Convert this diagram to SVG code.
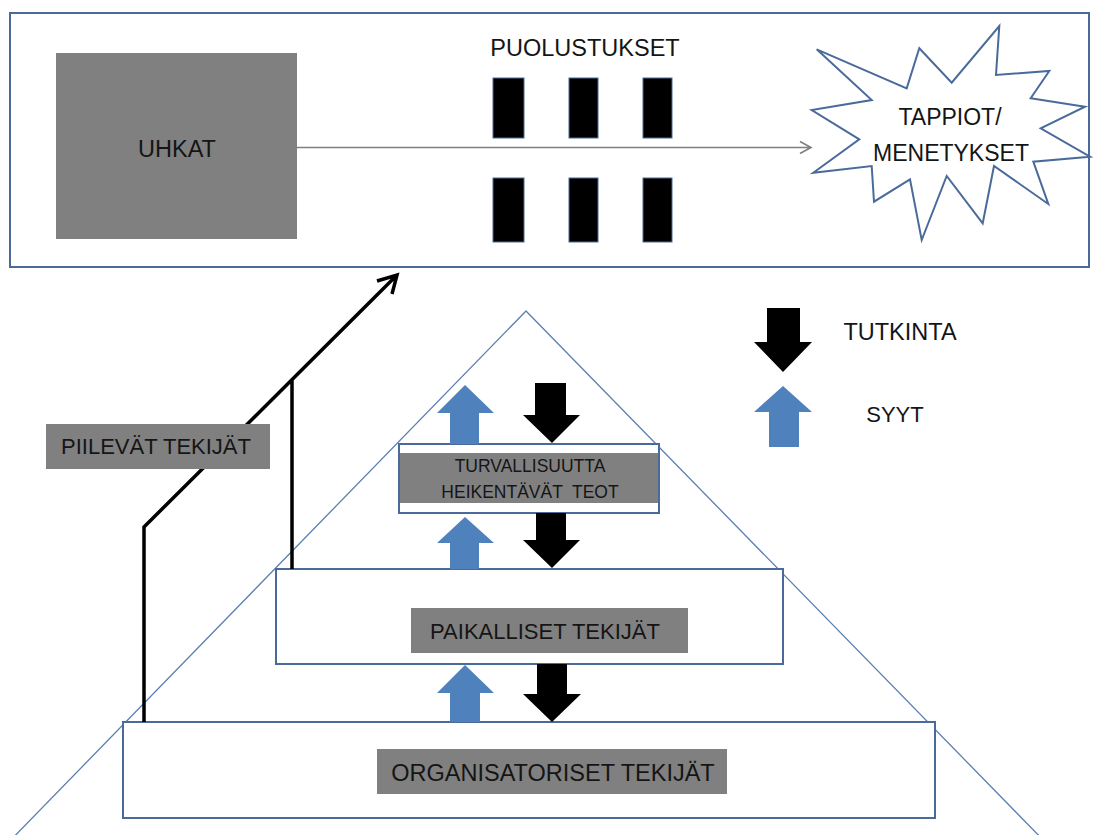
<svg xmlns="http://www.w3.org/2000/svg" width="1093" height="835" viewBox="0 0 1093 835">
<style>
.frame{fill:#fff;stroke:#4a6b9a;stroke-width:2}
.gray{fill:#808080}
.bar{fill:#000;stroke:#4a6b9a;stroke-width:1}
.t{font-family:"Liberation Sans",Arial,sans-serif;fill:#151515;text-anchor:middle}
.blue{fill:#4f81bd}
.blk{fill:#000}
.tri{fill:none;stroke:#5b7fb0;stroke-width:1.3}
</style>
<rect width="1093" height="835" fill="#fff"/>
<g id="top-panel">
<rect class="frame" x="10" y="13" width="1079" height="254"/>
</g>
<g id="pyramid">
<path class="tri" d="M4,847 L526,311 L1050,847"/>
</g>
<g id="uhkat">
<rect class="gray" x="56" y="53" width="241" height="186"/>
<text class="t" x="177" y="157" font-size="23.5">UHKAT</text>
</g>
<g id="puolustukset">
<text class="t" x="585" y="56" font-size="23.5">PUOLUSTUKSET</text>
<rect class="bar" x="493" y="78" width="31" height="60"/>
<rect class="bar" x="569" y="78" width="29" height="60"/>
<rect class="bar" x="643" y="78" width="29" height="60"/>
<rect class="bar" x="493" y="178" width="31" height="64"/>
<rect class="bar" x="569" y="178" width="29" height="64"/>
<rect class="bar" x="643" y="178" width="29" height="64"/>
</g>
<g id="tappiot">
<polygon class="frame" points="816.7,49.3 906.7,88.3 919.3,48.3 951.7,82.7 999.3,26 996,75 1049.3,71 1030.7,98.3 1085,106.7 1040.7,128.3 1090,156.7 1033.3,161.7 1048.3,204 994,166 982.7,223.3 946.7,176 921.7,240 910,179.3 874,201.7 871.7,166 813.3,172.7 859.3,139.3 811.7,110 871.7,100"/>
<text class="t" x="950" y="125" font-size="23">TAPPIOT/</text>
<text class="t" x="951" y="161" font-size="23">MENETYKSET</text>
</g>
<g id="organisatoriset">
<rect class="frame" x="123" y="722" width="812" height="96"/>
<rect class="gray" x="377" y="749" width="350" height="45"/>
<text class="t" x="553" y="781" font-size="23.5">ORGANISATORISET TEKIJÄT</text>
</g>
<g id="paikalliset">
<rect class="frame" x="276" y="569" width="507" height="95"/>
<rect class="gray" x="411" y="608" width="277" height="45"/>
<text class="t" x="545" y="639" font-size="22">PAIKALLISET TEKIJÄT</text>
</g>
<g id="turvallisuutta">
<rect class="frame" x="399" y="444" width="260" height="69"/>
<rect class="gray" x="400" y="453" width="258" height="50"/>
<text class="t" x="530" y="472" font-size="17.5">TURVALLISUUTTA</text>
<text class="t" x="530" y="498" font-size="17.5" xml:space="preserve">HEIKENTÄVÄT  TEOT</text>
</g>
<g id="legend">
<polygon class="blk" points="767,308 800,308 800,342 812,342 783,372 754,342 767,342"/>
<text class="t" x="900" y="340" font-size="23.5">TUTKINTA</text>
<polygon class="blue" points="783,386 812,412 799,412 799,447 769,447 769,412 754,412"/>
<text class="t" x="895" y="422" font-size="22">SYYT</text>
</g>
<g id="connectors">
<path d="M297,147.5 H810 M800,141.5 L811,147.5 L800,153.5" fill="none" stroke="#7f7f7f" stroke-width="1.6"/>
<polygon class="blue" points="465,385 494,413 479,413 479,444 450,444 450,413 437,413"/>
<polygon class="blk" points="535,383 566,383 566,415 580,415 552,443 523,415 535,415"/>
<polygon class="blue" points="465,517 494,543 479,543 479,569 450,569 450,543 437,543"/>
<polygon class="blk" points="536,513 566,513 566,540 580,540 552,568 523,540 536,540"/>
<polygon class="blue" points="465,665 494,693 480,693 480,722 450,722 450,693 437,693"/>
<polygon class="blk" points="537,664 567,664 567,694 581,694 552,722 523,694 537,694"/>
<path d="M144,722 V527 L396,276 M377,281 L397,275 L392,294 M292,569 V380" fill="none" stroke="#000" stroke-width="3.5" stroke-linejoin="miter"/>
</g>
<g id="piilevat">
<rect class="gray" x="46" y="424" width="224" height="45"/>
<text class="t" x="156" y="454" font-size="22">PIILEVÄT TEKIJÄT</text>
</g>
</svg>
